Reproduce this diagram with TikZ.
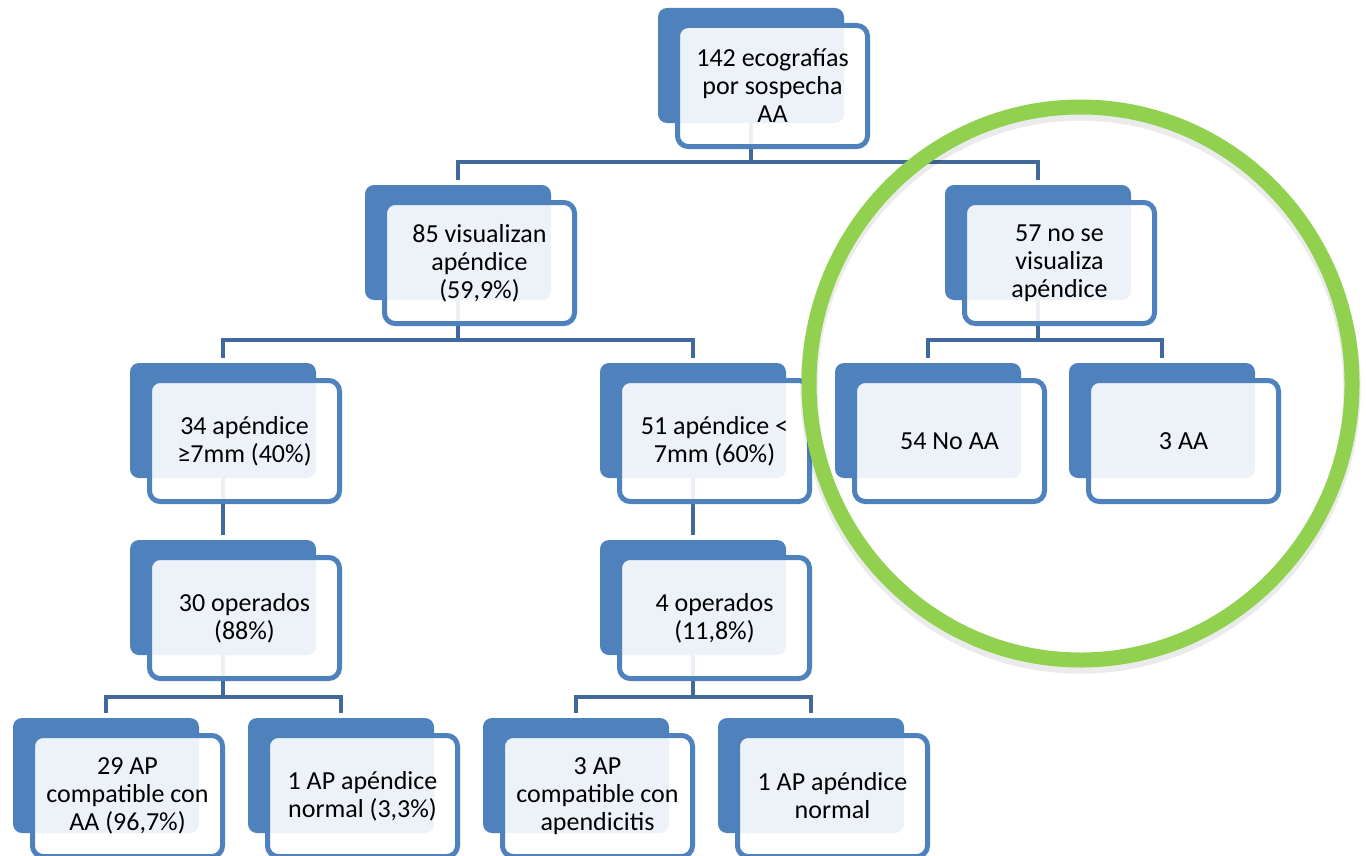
\documentclass[tikz,border=0pt]{standalone}
\usepackage{fontspec}
\setmainfont{Carlito}
\usetikzlibrary{calc}
\definecolor{boxblue}{HTML}{4F81BD}
\definecolor{linkblue}{HTML}{41699C}
\definecolor{ringgreen}{HTML}{92D050}
\pgfdeclarelayer{bg}
\pgfsetlayers{bg,main}
\tikzset{
  backbox/.style={fill=boxblue, rounded corners=6.75pt, minimum width=139.5pt, minimum height=86.25pt, inner sep=0pt, outer sep=0pt},
  frontbox/.style={draw=boxblue, line width=3.75pt, fill=white, fill opacity=0.9, text opacity=1, draw opacity=1,
     rounded corners=8pt, minimum width=142.5pt, minimum height=90.75pt, inner sep=2pt, outer sep=0pt,
     align=center, text=black, font=\fontsize{19.5pt}{21pt}\selectfont},
  conn/.style={draw=linkblue, line width=3.4pt, line join=miter, line cap=butt},
  ring/.style={draw=ringgreen, line width=11.25pt},
}
\newcommand\tbox[4]{%
  \node[backbox] (#1-b) at (#2+93,#3+57.5) {};
  \node[frontbox] (#1) at (#2+114.5,#3+78) {#4};
}
\begin{document}
\begin{tikzpicture}[x=0.75pt,y=-0.75pt]
\useasboundingbox (0,0) rectangle (1367,856);
\tbox{root}{658}{8}{142 ecografías\\por sospecha\\AA}
\tbox{vis}{365}{185}{85 visualizan\\apéndice\\(59,9\%)}
\tbox{novis}{945}{185}{57 no se\\visualiza\\apéndice}
\tbox{big}{130}{363}{34 apéndice\\≥7mm (40\%)}
\tbox{small}{600}{363}{51 apéndice <\\7mm (60\%)}
\tbox{noaa}{835}{363}{54 No AA}
\tbox{aa}{1069}{363}{3 AA}
\tbox{opa}{130}{540}{30 operados\\(88\%)}
\tbox{opb}{600}{540}{4 operados\\(11,8\%)}
\tbox{apa}{13}{718}{29 AP\\compatible con\\AA (96,7\%)}
\tbox{apb}{248}{718}{1 AP apéndice\\normal (3,3\%)}
\tbox{apc}{483}{718}{3 AP\\compatible con\\apendicitis}
\tbox{apd}{718}{718}{1 AP apéndice\\normal}
\begin{pgfonlayer}{bg}
  \path (root-b.south) ++(0,39) coordinate (j1);
  \path (vis-b.south) ++(0,40) coordinate (j2);
  \path (novis-b.south) ++(0,40) coordinate (j3);
  \path (opa-b.south) ++(0,42) coordinate (j4);
  \path (opb-b.south) ++(0,42) coordinate (j5);
  \draw[conn] (root-b.south) -- (j1);
  \draw[conn] ([yshift=4pt]vis-b.north) |- (j1) -| ([yshift=4pt]novis-b.north);
  \draw[conn] (vis-b.south) -- (j2);
  \draw[conn] ([yshift=4pt]big-b.north) |- (j2) -| ([yshift=4pt]small-b.north);
  \draw[conn] (novis-b.south) -- (j3);
  \draw[conn] ([yshift=4pt]noaa-b.north) |- (j3) -| ([yshift=4pt]aa-b.north);
  \draw[conn] (big-b.south) -- ([yshift=4pt]opa-b.north);
  \draw[conn] (small-b.south) -- ([yshift=4pt]opb-b.north);
  \draw[conn] (opa-b.south) -- (j4);
  \draw[conn] ([yshift=4pt]apa-b.north) |- (j4) -| ([yshift=4pt]apb-b.north);
  \draw[conn] (opb-b.south) -- (j5);
  \draw[conn] ([yshift=4pt]apc-b.north) |- (j5) -| ([yshift=4pt]apd-b.north);
\end{pgfonlayer}
\coordinate (ringc) at (1080.5,383.5);
\draw[draw=black, draw opacity=0.08, line width=13pt] ($(ringc)+(0,5)$) ellipse [x radius=271.5, y radius=276.5];
\draw[ring] (ringc) ellipse [x radius=271.5, y radius=276.5];
\end{tikzpicture}
\end{document}
